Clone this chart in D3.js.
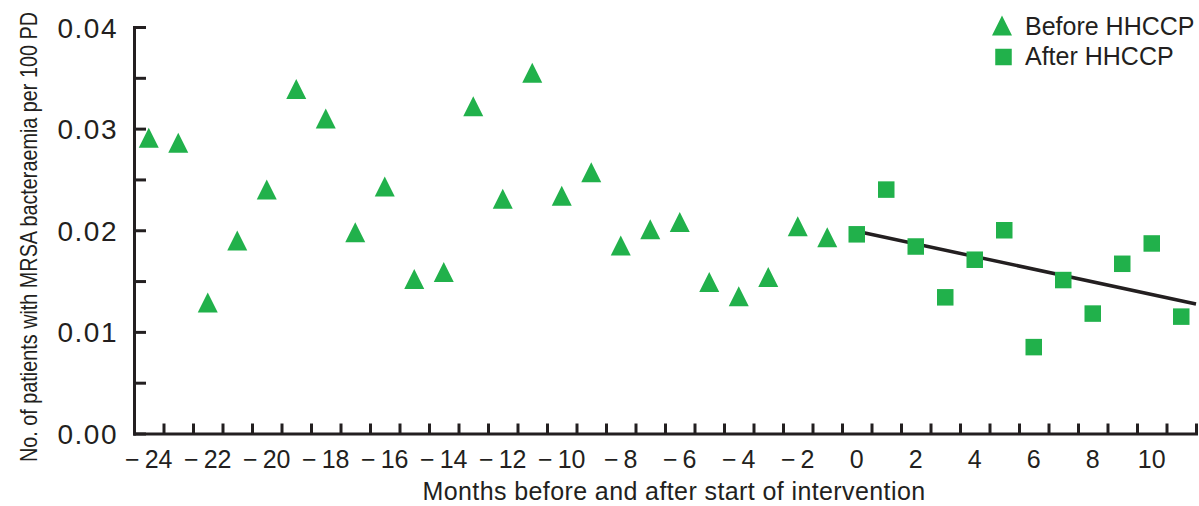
<!DOCTYPE html>
<html><head><meta charset="utf-8">
<script src="https://cdn.jsdelivr.net/npm/d3@7"></script>
<style>
html,body{margin:0;padding:0;background:#fff;}
svg{display:block;}
text{font-family:"Liberation Sans",Arial,Helvetica,sans-serif;fill:#231f20;}
</style></head><body>
<svg id="chart" width="1199" height="506"></svg>
<script>
// ---- data ----
const beforeMonths = [-24,-23,-22,-21,-20,-19,-18,-17,-16,-15,-14,-13,-12,-11,-10,-9,-8,-7,-6,-5,-4,-3,-2,-1];
const beforeValues = [0.0291,0.0286,0.0129,0.0190,0.0240,0.0339,0.0310,0.0198,0.0243,0.0152,0.0159,0.0322,0.0231,0.0355,0.0234,0.0257,0.0185,0.0201,0.0208,0.0149,0.0135,0.0154,0.0204,0.0193];
const afterMonths = [0,1,2,3,4,5,6,7,8,9,10,11];
const afterValues = [0.0196,0.0240,0.0184,0.0134,0.0171,0.0200,0.0085,0.0151,0.0118,0.0167,0.0187,0.0115];
const trendMonths = [0, 11.5];
const trendValues = [0.0199, 0.01275];
const xTickLabels = [-24,-22,-20,-18,-16,-14,-12,-10,-8,-6,-4,-2,0,2,4,6,8,10];
const yTickLabels = [0,0.01,0.02,0.03,0.04];
const seriesNames = ["Before HHCCP","After HHCCP"];
const xTitle = "Months before and after start of intervention";
const yTitle = "No. of patients with MRSA bacteraemia per 100 PD";

// ---- drawing ----
const GREEN = "#21b14b", INK = "#231f20";
const svg = d3.select("#chart");
const x = d3.scaleLinear().domain([-24.5, 11.5]).range([134, 1196]);
const y = d3.scaleLinear().domain([0, 0.04]).range([433.5, 27]);

const triPath = "M0,-10L10,10L-10,10Z";
const sq = 16.5;

// y axis
const yTicks = d3.range(9).map(i => i * 0.005);
const isLabel = d => yTickLabels.some(v => Math.abs(v - d) < 1e-9);
const gy = svg.append("g").attr("transform", "translate(134,0)")
  .call(d3.axisLeft(y).tickValues(yTicks).tickSize(-12).tickSizeOuter(0).tickPadding(16)
    .tickFormat(d => isLabel(d) ? d3.format(".2f")(d) : ""));
gy.select(".domain").attr("stroke", INK).attr("stroke-width", 3).attr("stroke-linecap", "square");
gy.selectAll(".tick line").attr("stroke", INK).attr("stroke-width", 3);
gy.selectAll(".tick text").attr("font-size", 28).attr("letter-spacing", "1.5px")
  .attr("font-family", '"Liberation Sans",Arial,sans-serif').attr("fill", INK).attr("dy", "0.36em");

// x axis marks (half-month ticks)
const gx = svg.append("g").attr("transform", `translate(0,${y(0)})`)
  .call(d3.axisBottom(x).tickValues(d3.range(-23.5, 11.6, 1)).tickSize(-10).tickSizeOuter(0).tickFormat(""));
gx.select(".domain").attr("stroke", INK).attr("stroke-width", 3).attr("stroke-linecap", "square");
gx.selectAll(".tick line").attr("stroke", INK).attr("stroke-width", 3);

// x tick labels
svg.append("g").selectAll("text").data(xTickLabels).join("text")
  .attr("x", d => x(d)).attr("y", 468)
  .attr("text-anchor", "middle").attr("font-size", 25)
  .text(d => d < 0 ? "\u2212\u2009" + Math.abs(d) : String(d));

// titles
svg.append("text").attr("x", 674).attr("y", 500).attr("text-anchor", "middle")
  .attr("font-size", 25).attr("letter-spacing", "0.4px").text(xTitle);
svg.append("text").attr("transform", "translate(37,237) rotate(-90) scale(1,1.2)")
  .attr("text-anchor", "middle").attr("font-size", 19.8).text(yTitle);

// trend line
svg.append("path")
  .datum(trendMonths.map((m, i) => [m, trendValues[i]]))
  .attr("d", d3.line().x(d => x(d[0])).y(d => y(d[1])))
  .attr("fill", "none").attr("stroke", INK).attr("stroke-width", 3.5);

// before points (triangles)
svg.append("g").selectAll("path").data(beforeMonths.map((m, i) => [m, beforeValues[i]])).join("path")
  .attr("d", triPath).attr("transform", d => `translate(${x(d[0])},${y(d[1])})`)
  .attr("fill", GREEN);

// after points (squares)
svg.append("g").selectAll("rect").data(afterMonths.map((m, i) => [m, afterValues[i]])).join("rect")
  .attr("x", d => x(d[0]) - sq / 2).attr("y", d => y(d[1]) - sq / 2)
  .attr("width", sq).attr("height", sq).attr("fill", GREEN);

// legend
const lg = svg.append("g");
lg.append("path").attr("d", triPath).attr("transform", "translate(1002,25.5)").attr("fill", GREEN);
lg.append("rect").attr("x", 1003.5 - sq / 2).attr("y", 57 - sq / 2).attr("width", sq).attr("height", sq).attr("fill", GREEN);
lg.selectAll("text").data(seriesNames).join("text")
  .attr("x", 1025).attr("y", (d, i) => 35 + i * 30).attr("font-size", 25).text(d => d);
</script>
</body></html>
